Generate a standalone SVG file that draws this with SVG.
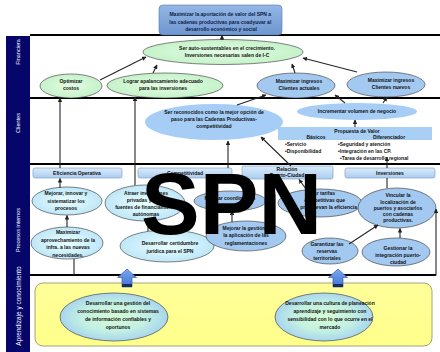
<svg xmlns="http://www.w3.org/2000/svg" width="440" height="352" viewBox="0 0 440 352">
  <defs>
    <style>
      .t{font-family:"Liberation Sans",Arial,sans-serif;font-size:5px;font-weight:bold;fill:#111;text-anchor:middle}
      .tl{font-family:"Liberation Sans",Arial,sans-serif;font-size:5px;font-weight:bold;fill:#111}
      .side{font-family:"Liberation Sans",Arial,sans-serif;font-size:5.5px;fill:#fff;text-anchor:middle}
      .lane{stroke:#000;stroke-width:2;fill:none}
      .ln{stroke:#262626;stroke-width:1.1;fill:none}
      .arr{marker-end:url(#ah)}
      .green{fill:url(#gGreen);stroke:#333;stroke-width:0.6}
      .blue{fill:#a3c9f1;stroke:#333;stroke-width:0.6}
      .soft{fill:#a6cdf6}
      .cyan{fill:url(#gCyan);stroke:#333;stroke-width:0.6}
      .head{fill:url(#gHead);stroke:#7a98b8;stroke-width:0.6}
      .learn{fill:url(#gLearn);stroke:#333;stroke-width:0.6}
    </style>
    <marker id="ah" viewBox="0 0 10 10" refX="9" refY="5" markerWidth="4.5" markerHeight="4.5" markerUnits="userSpaceOnUse" orient="auto">
      <path d="M0,0 L10,5 L0,10 z" fill="#222"/>
    </marker>
    <linearGradient id="gTitle" x1="0" y1="0" x2="0" y2="1">
      <stop offset="0" stop-color="#93b7e6"/>
      <stop offset="1" stop-color="#6e97d0"/>
    </linearGradient>
    <radialGradient id="gGreen" cx="0.5" cy="0.5" r="0.6">
      <stop offset="0" stop-color="#e4fde4"/>
      <stop offset="1" stop-color="#bff0c4"/>
    </radialGradient>
    <radialGradient id="gCyan" cx="0.5" cy="0.5" r="0.6">
      <stop offset="0" stop-color="#eaffff"/>
      <stop offset="1" stop-color="#b6e2f7"/>
    </radialGradient>
    <linearGradient id="gHead" x1="0" y1="0" x2="0" y2="1">
      <stop offset="0" stop-color="#dcebfa"/>
      <stop offset="1" stop-color="#a9cdf0"/>
    </linearGradient>
    <radialGradient id="gLearn" cx="0.5" cy="0.5" r="0.6">
      <stop offset="0" stop-color="#d8fbd4"/>
      <stop offset="0.5" stop-color="#c2f0e2"/>
      <stop offset="1" stop-color="#9cc8f4"/>
    </radialGradient>
    <linearGradient id="gYellow" x1="0" y1="0" x2="0" y2="1">
      <stop offset="0" stop-color="#ffff9a"/>
      <stop offset="1" stop-color="#ffff8a"/>
    </linearGradient>
    <linearGradient id="gBlock" x1="0" y1="0" x2="0" y2="1">
      <stop offset="0" stop-color="#7aa6ef"/>
      <stop offset="1" stop-color="#3f74d2"/>
    </linearGradient>
  </defs>

  <rect width="440" height="352" fill="#fff"/>

  <!-- lane separators -->
  <g id="lanes">
    <path class="lane" d="M30,35 H440"/>
    <path class="lane" d="M30,98 H440"/>
    <path class="lane" d="M30,164 H440"/>
    <path class="lane" d="M30,275 H436" stroke-width="1.5"/>
  </g>

  <!-- perspective side bar -->
  <g id="sidebar">
    <rect x="6" y="36" width="24" height="316" fill="#06066a"/>
    <text class="side" transform="translate(20,52) rotate(-90)">Financiera</text>
    <text class="side" transform="translate(20,123) rotate(-90)">Clientes</text>
    <text class="side" transform="translate(20,230) rotate(-90)">Procesos internos</text>
    <text class="side" style="font-size:6.5px" transform="translate(20.5,306) rotate(-90)">Aprendizaje y conocimiento</text>
  </g>

  <!-- learning area background -->
  <g id="learning-area">
    <rect x="35" y="283" width="397" height="63" rx="8" fill="url(#gYellow)" stroke="#8a8a70" stroke-width="0.8"/>
  </g>

  <!-- title -->
  <g id="mision">
    <rect x="159" y="5" width="123" height="30" rx="4" fill="url(#gTitle)" stroke="#5576a8" stroke-width="0.6"/>
    <text class="t" style="fill:#0e1c48">
      <tspan x="221" y="16">Maximizar la aportación de valor del SPN a</tspan>
      <tspan x="221" y="23.5">las cadenas productivas para coadyuvar al</tspan>
      <tspan x="221" y="31">desarrollo económico y social</tspan>
    </text>
  </g>

  <!-- Financiera -->
  <g id="ser-autosustentables">
    <ellipse class="green" cx="223" cy="52" rx="80" ry="12.5"/>
    <text class="t"><tspan x="227" y="50">Ser auto-sustentables en el crecimiento.</tspan><tspan x="227" y="57">Inversiones necesarias salen de I-C</tspan></text>
  </g>
  <g id="optimizar-costos">
    <ellipse class="green" cx="71" cy="86" rx="31" ry="12"/>
    <text class="t"><tspan x="71" y="83">Optimizar</tspan><tspan x="71" y="90">costos</tspan></text>
  </g>
  <g id="lograr-apalancamiento">
    <ellipse class="green" cx="165" cy="85.5" rx="58" ry="12.5"/>
    <text class="t"><tspan x="163" y="83">Lograr apalancamiento adecuado</tspan><tspan x="163" y="90">para las inversiones</tspan></text>
  </g>
  <g id="ingresos-actuales">
    <ellipse class="blue" cx="296" cy="85.5" rx="39" ry="12.5"/>
    <text class="t"><tspan x="299" y="82.5">Maximizar ingresos</tspan><tspan x="299" y="89.5">Clientes actuales</tspan></text>
  </g>
  <g id="ingresos-nuevos">
    <ellipse class="blue" cx="386" cy="84.5" rx="39" ry="12.5"/>
    <text class="t"><tspan x="391" y="81.5">Maximizar ingresos</tspan><tspan x="391" y="88.5">Clientes nuevos</tspan></text>
  </g>

  <!-- Clientes -->
  <g id="ser-reconocidos">
    <ellipse class="soft" cx="214" cy="122" rx="69" ry="18"/>
    <text class="t"><tspan x="214" y="114">Ser reconocidos como la mejor opción de</tspan><tspan x="214" y="121">paso para las Cadenas Productivas-</tspan><tspan x="214" y="128">competitividad</tspan></text>
  </g>
  <g id="incrementar-volumen">
    <ellipse class="soft" cx="357" cy="111.5" rx="60" ry="8.5"/>
    <text class="t" x="357" y="113">Incrementar volumen de negocio</text>
  </g>
  <g id="propuesta-valor">
    <rect x="278" y="127" width="154" height="13" fill="#a9cff5"/>
    <text class="t" x="357" y="133">Propuesta de Valor</text>
    <text class="t" x="316" y="139">Básicos</text>
    <text class="t" x="389" y="139">Diferenciador</text>
    <text class="tl"><tspan x="285" y="145.5">•Servicio</tspan><tspan x="285" y="153">•Disponibilidad</tspan></text>
    <text class="tl"><tspan x="338" y="145.5">•Seguridad y atención</tspan><tspan x="338" y="153">•Integración en las CP.</tspan><tspan x="340" y="160">•Tarea de desarrollo regional</tspan></text>
  </g>

  <!-- Procesos internos: headers -->
  <g id="h-eficiencia">
    <rect class="head" x="33" y="168" width="89" height="10" rx="2"/>
    <text class="t" x="77" y="175">Eficiencia Operativa</text>
  </g>
  <g id="h-competitividad">
    <rect class="head" x="138" y="168" width="94" height="10" rx="2"/>
    <text class="t" x="185" y="175">Competitividad</text>
  </g>
  <g id="h-relacion">
    <rect class="head" x="242" y="166" width="91" height="13" rx="2"/>
    <text class="t"><tspan x="287" y="170.5">Relación</tspan><tspan x="287" y="177">Puerto-Ciudad</tspan></text>
  </g>
  <g id="h-inversiones">
    <rect class="head" x="345" y="168" width="90" height="10" rx="2"/>
    <text class="t" x="390" y="175">Inversiones</text>
  </g>

  <!-- Procesos internos: objectives -->
  <g id="mejorar-procesos">
    <ellipse class="cyan" cx="67" cy="201" rx="35" ry="14"/>
    <text class="t"><tspan x="66" y="195">Mejorar, innovar y</tspan><tspan x="66" y="202.5">sistematizar los</tspan><tspan x="66" y="210">procesos</tspan></text>
  </g>
  <g id="maximizar-infra">
    <ellipse class="cyan" cx="67" cy="243" rx="36" ry="16"/>
    <text class="t"><tspan x="68" y="234">Maximizar</tspan><tspan x="68" y="241.5">aprovechamiento de la</tspan><tspan x="68" y="249">infra. a las nuevas</tspan><tspan x="68" y="256.5">necesidades.</tspan></text>
  </g>
  <g id="atraer-inversiones">
    <ellipse class="cyan" cx="145" cy="203" rx="40" ry="18"/>
    <text class="t"><tspan x="146" y="195">Atraer inversiones</tspan><tspan x="146" y="202">privadas y otras</tspan><tspan x="146" y="209">fuentes de financiamiento</tspan><tspan x="146" y="216">autónomas</tspan></text>
  </g>
  <g id="certidumbre-juridica">
    <ellipse class="cyan" cx="167" cy="246" rx="47" ry="16"/>
    <text class="t"><tspan x="170" y="245">Desarrollar certidumbre</tspan><tspan x="170" y="252.5">jurídica para el SPN</tspan></text>
  </g>
  <g id="mejorar-coordinacion">
    <ellipse class="blue" cx="230" cy="201" rx="36" ry="10"/>
    <text class="t" x="230" y="200">Mejorar coordinación</text>
  </g>
  <g id="mejorar-gestion">
    <ellipse class="blue" cx="246" cy="236" rx="40" ry="15"/>
    <text class="t"><tspan x="246" y="230">Mejorar la gestión y</tspan><tspan x="246" y="237">la aplicación de las</tspan><tspan x="246" y="245">reglamentaciones</tspan></text>
  </g>
  <g id="tarifas">
    <ellipse class="blue" cx="320" cy="203" rx="42" ry="14"/>
    <text class="tl" text-anchor="end"><tspan x="335" y="195">Fijar tarifas</tspan><tspan x="345" y="202">competitivas que</tspan><tspan x="357" y="209">promuevan la eficiencia</tspan></text>
  </g>
  <g id="reservas-territoriales">
    <ellipse class="blue" cx="330" cy="251" rx="28" ry="13"/>
    <text class="t"><tspan x="327" y="245.5">Garantizar las</tspan><tspan x="327" y="252.5">reservas</tspan><tspan x="327" y="259.5">territoriales</tspan></text>
  </g>
  <g id="vincular-puertos">
    <ellipse class="blue" cx="397" cy="208" rx="39" ry="20"/>
    <text class="t"><tspan x="398" y="197">Vincular la</tspan><tspan x="398" y="203.5">localización de</tspan><tspan x="398" y="210">puertos y asociarlos</tspan><tspan x="398" y="216">con cadenas</tspan><tspan x="398" y="222">productivas.</tspan></text>
  </g>
  <g id="integracion-puerto-ciudad">
    <ellipse class="blue" cx="396" cy="252" rx="34" ry="14"/>
    <text class="t"><tspan x="398" y="250">Gestionar la</tspan><tspan x="398" y="257">integración puerto-</tspan><tspan x="398" y="264">ciudad</tspan></text>
  </g>

  <!-- Aprendizaje y conocimiento -->
  <g id="block-arrow-left">
    <path d="M127,269 L136.5,277.5 L132,277.5 L132,287 L122,287 L122,277.5 L117.5,277.5 Z" fill="url(#gBlock)" stroke="#2a4f9a" stroke-width="0.6"/>
    <rect x="122" y="284" width="10" height="3" fill="#1a2a64"/>
  </g>
  <g id="block-arrow-right">
    <path d="M338,269 L347.5,277.5 L343,277.5 L343,287 L333,287 L333,277.5 L328.5,277.5 Z" fill="url(#gBlock)" stroke="#2a4f9a" stroke-width="0.6"/>
    <rect x="333" y="284" width="10" height="3" fill="#1a2a64"/>
  </g>
  <g id="gestion-conocimiento">
    <ellipse class="learn" cx="114" cy="317" rx="54" ry="24"/>
    <text class="t"><tspan x="118" y="305">Desarrollar una gestión del</tspan><tspan x="118" y="313">conocimiento basado en sistemas</tspan><tspan x="118" y="321">de información confiables y</tspan><tspan x="118" y="328.5">oportunos</tspan></text>
  </g>
  <g id="cultura-planeacion">
    <ellipse class="learn" cx="324" cy="317" rx="49" ry="24"/>
    <text class="t"><tspan x="330" y="305">Desarrollar una cultura de planeación</tspan><tspan x="330" y="313">aprendizaje y seguimiento con</tspan><tspan x="330" y="321">sensibilidad con lo que ocurre en el</tspan><tspan x="330" y="328.5">mercado</tspan></text>
  </g>

  <!-- cause-effect connectors -->
  <g id="connectors">
    <path class="ln arr" d="M222,40 V35.5"/>
    <path class="ln arr" d="M100,80 L146,57"/>
    <path class="ln arr" d="M153,73 L157,65"/>
    <path class="ln arr" d="M295,73 L292,64"/>
    <path class="ln arr" d="M357,72 L303,58"/>
    <path class="ln arr" d="M60,168 V98"/>
    <path class="ln arr" d="M135,185 V97"/>
    <path class="ln arr" d="M237,105 L266,95"/>
    <path class="ln arr" d="M345,103 L335,95"/>
    <path class="ln arr" d="M383,103 L387,97"/>
    <path class="ln arr" d="M355,127 V120"/>
    <path class="ln arr" d="M228,168 V141"/>
    <path class="ln arr" d="M291,166 L261,137"/>
    <path class="ln arr" d="M387,168 V157"/>
    <path class="ln arr" d="M306,189 L299,179.5"/>
    <path class="ln arr" d="M60,188 V178.5"/>
    <path class="ln arr" d="M67,227 V215.5"/>
    <path class="ln" d="M74,259 V275"/>
    <path class="ln arr" d="M148,231 V221"/>
    <path class="ln arr" d="M232,222 V211"/>
    <path class="ln arr" d="M349,244 L378,225"/>
    <path class="ln arr" d="M400,238 V228.5"/>
    <path class="ln" d="M387,178 V188"/>
    <path class="ln arr" d="M436,275.5 V209"/>
  </g>

  <!-- overlaid acronym -->
  <g id="spn-mark">
    <text x="141" y="234" style="font-family:'Liberation Sans',Arial,sans-serif;font-size:88px;font-weight:bold;fill:#000">SPN</text>
  </g>
</svg>
